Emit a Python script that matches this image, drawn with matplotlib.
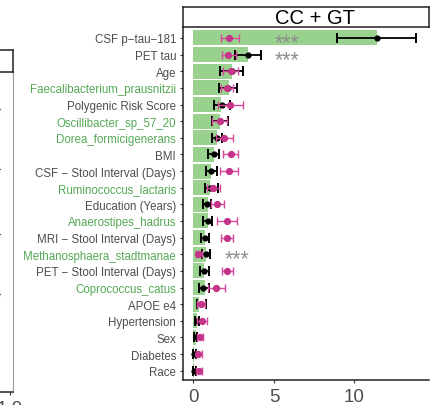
import numpy as np
import matplotlib
matplotlib.use("Agg")
import matplotlib.pyplot as plt

plt.rcParams['font.family'] = ['Liberation Sans', 'DejaVu Sans']

# feature labels, top to bottom
features = ["CSF p\u2212tau\u2212181", "PET tau", "Age", "Faecalibacterium_prausnitzii",
            "Polygenic Risk Score", "Oscillibacter_sp_57_20", "Dorea_formicigenerans", "BMI",
            "CSF \u2212 Stool Interval (Days)", "Ruminococcus_lactaris", "Education (Years)",
            "Anaerostipes_hadrus", "MRI \u2212 Stool Interval (Days)", "Methanosphaera_stadtmanae",
            "PET \u2212 Stool Interval (Days)", "Coprococcus_catus", "APOE e4", "Hypertension",
            "Sex", "Diabetes", "Race"]
is_taxon = [False, False, False, True, False, True, True, False, False, True, False,
            True, False, True, False, True, False, False, False, False, False]

bar_val = [11.4, 3.37, 2.37, 2.2, 1.73, 1.65, 1.44, 1.3, 1.09, 1.02, 0.9,
           0.92, 0.71, 0.8, 0.67, 0.71, 0.35, 0.2, 0.13, 0.05, 0.03]

cc_mean = [11.4, 3.37, 2.37, 2.16, 1.75, 1.65, 1.44, 1.3, 1.09, 1.02, 0.82,
           0.88, 0.71, 0.75, 0.67, 0.62, 0.45, 0.2, 0.13, 0.05, 0.05]
cc_lo = [8.93, 2.56, 1.65, 1.57, 1.3, 1.13, 1.13, 0.92, 0.76, 0.72, 0.6,
         0.61, 0.47, 0.51, 0.4, 0.34, 0.2, 0.08, 0.03, -0.05, -0.05]
cc_hi = [13.8, 4.19, 3.09, 2.7, 2.25, 2.17, 1.79, 1.6, 1.44, 1.5, 1.1,
         1.17, 0.96, 1.02, 0.96, 0.96, 0.75, 0.32, 0.24, 0.15, 0.17]

gt_mean = [2.2, 2.15, 2.31, 2.06, 2.3, 1.65, 1.92, 2.33, 2.2, 1.2, 1.44,
           2.1, 2.1, 0.3, 2.1, 1.38, 0.45, 0.5, 0.4, 0.3, 0.33]
gt_lo = [1.69, 1.79, 1.85, 1.71, 1.55, 1.17, 1.38, 1.85, 1.65, 0.85, 1.07,
         1.48, 1.71, 0.16, 1.75, 0.9, 0.2, 0.22, 0.24, 0.15, 0.17]
gt_hi = [2.85, 2.63, 2.74, 2.48, 3.1, 2.06, 2.48, 2.79, 2.79, 1.62, 1.88,
         2.68, 2.48, 0.51, 2.48, 1.98, 0.71, 0.85, 0.61, 0.51, 0.5]

# significance stars: (feature, x position)
star_rows = ["CSF p\u2212tau\u2212181", "PET tau", "Methanosphaera_stadtmanae"]
star_x = [5.8, 5.8, 2.7]

# left (cropped) neighbour panel
left_star_y = [0.891, 0.703, 0.5, 0.3125]

W, H = 432, 406


def px_box(x0, y0, x1, y1):
    return [x0 / W, (H - y1) / H, (x1 - x0) / W, (y1 - y0) / H]


fig = plt.figure(figsize=(W / 100, H / 100), dpi=100)

grey_txt = '#4d4d4d'
green_txt = '#55a855'
bar_col = '#99d18f'
pink = '#d9489e'
pink_pt = '#c43589'

n = len(features)
ypos = np.arange(n)[::-1]

# main panel
ax = fig.add_axes(px_box(183, 28, 429, 381))
ax.barh(ypos, bar_val, height=0.9, color=bar_col, zorder=1)
cc_mean = np.array(cc_mean)
gt_mean = np.array(gt_mean)
ax.errorbar(cc_mean, ypos, xerr=[cc_mean - np.array(cc_lo), np.array(cc_hi) - cc_mean],
            fmt='o', color='black', ms=3.5, lw=1.3, capsize=3.6, capthick=1.4, zorder=3)
ax.errorbar(gt_mean, ypos, xerr=[gt_mean - np.array(gt_lo), np.array(gt_hi) - gt_mean],
            fmt='o', color=pink, mfc=pink_pt, mec=pink_pt, ms=4.2, lw=1.0, capsize=3.2,
            capthick=1.0, zorder=4)

for name, sx in zip(star_rows, star_x):
    yy = ypos[features.index(name)]
    ax.text(sx, yy - 0.62, "***", ha='center', va='baseline', fontsize=15.5, color='#8c8c8c')

ax.set_xlim(-0.65, 14.63)
ax.set_ylim(-0.56, n - 1 + 0.66)
ax.set_xticks([0, 5, 10])
ax.set_xticklabels(["0", "5", "10"], fontsize=13.5, color=grey_txt)
ax.set_yticks(ypos)
ax.set_yticklabels(features, fontsize=8.3)
for lab, tx in zip(ax.get_yticklabels(), is_taxon):
    lab.set_color(green_txt if tx else grey_txt)
ax.tick_params(axis='both', length=2.5, width=0.8, color='#333333', pad=2.5)
ax.tick_params(axis='x', pad=3)
for s in ['top', 'right']:
    ax.spines[s].set_visible(False)
for s in ['left', 'bottom']:
    ax.spines[s].set_color('#222222')
    ax.spines[s].set_linewidth(1.1)

# strip
sax = fig.add_axes(px_box(183, 8, 429, 28))
sax.set_xticks([])
sax.set_yticks([])
for s in sax.spines.values():
    s.set_color('#222222')
    s.set_linewidth(1.1)
fig.text(315 / W, (H - 18) / H, "CC + GT", ha='center', va='center', fontsize=14.5, color='black')

# cropped neighbour panel on the left
lax = fig.add_axes(px_box(-120, 73, 13, 393))
lax.set_xlim(0, 1.023)
lax.set_ylim(0, 1)
lax.set_yticks([])
lax.set_xticks([1.0])
lax.set_xticklabels(["1.0"], fontsize=13.5, color=grey_txt)
lax.tick_params(axis='x', length=2.5, width=0.8, color='#333333', pad=3)
for s in ['top', 'left']:
    lax.spines[s].set_visible(False)
lax.spines['right'].set_color('#999999')
lax.spines['bottom'].set_color('#222222')
lax.spines['bottom'].set_linewidth(1.1)
for yy in left_star_y:
    lax.text(0.905, yy - 0.035, "*", ha='center', va='baseline', fontsize=14, color='#555555')

lsax = fig.add_axes(px_box(-120, 51, 13, 73))
lsax.set_xticks([])
lsax.set_yticks([])
for s in lsax.spines.values():
    s.set_color('#222222')
    s.set_linewidth(1.1)

fig.savefig("out.png", dpi=100)
